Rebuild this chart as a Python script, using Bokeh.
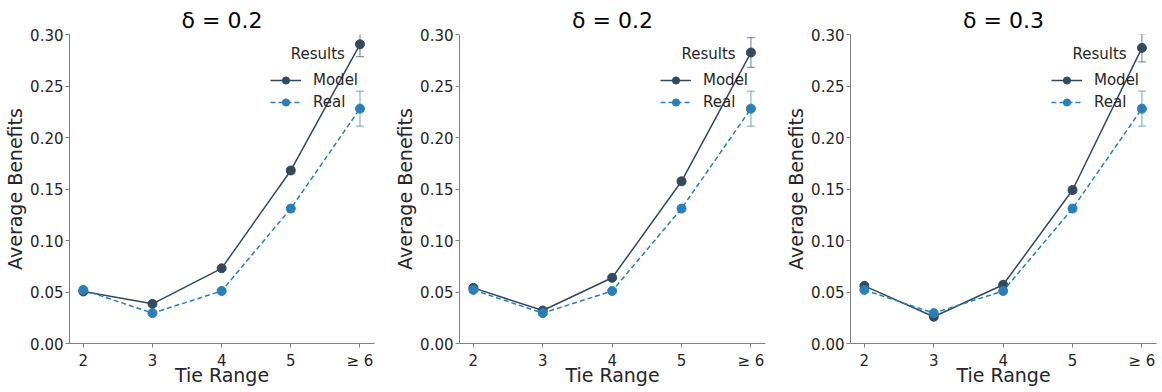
from bokeh.plotting import figure
from bokeh.layouts import row
from bokeh.models import (Range1d, FixedTicker, NumeralTickFormatter, Legend, LegendItem,
                          Whisker, TeeHead, ColumnDataSource, Label)
from bokeh.embed import file_html
from bokeh.resources import INLINE

# Tie range categories on the x axis
tie_ranges = ["2", "3", "4", "5", "≥ 6"]

# Delta used in each panel
deltas = ["0.2", "0.2", "0.3"]

# Model average benefits (one list per panel) and their error half-widths
model_benefits = [
    [0.0505, 0.0385, 0.073, 0.168, 0.2905],
    [0.054, 0.032, 0.0638, 0.1575, 0.2825],
    [0.056, 0.026, 0.057, 0.149, 0.287],
]
model_err = [
    [0.002, 0.002, 0.002, 0.003, 0.012],
    [0.002, 0.002, 0.002, 0.003, 0.0145],
    [0.002, 0.002, 0.002, 0.003, 0.0135],
]

# Observed (real) average benefits, identical across panels
real_benefits = [0.052, 0.0295, 0.051, 0.131, 0.228]
real_err = [0.002, 0.002, 0.002, 0.003, 0.017]

y_ticks = [0.0, 0.05, 0.10, 0.15, 0.20, 0.25, 0.30]

MODEL_COLOR = "#34495e"
REAL_COLOR = "#2980b9"
FONT = "DejaVu Sans"
SPINE = "#808080"


def make_panel(i, frame_width, border_right):
    xs = list(range(len(tie_ranges)))
    p = figure(
        output_backend="svg", toolbar_location=None,
        frame_width=frame_width, frame_height=309,
        min_border_left=69, min_border_right=border_right,
        min_border_top=34, min_border_bottom=49,
        x_range=Range1d(-0.2, len(tie_ranges) - 1 + 0.21),
        y_range=Range1d(0.0, 0.30),
        title="δ = " + deltas[i],
    )
    p.outline_line_color = None
    p.background_fill_color = "white"
    p.border_fill_color = "white"
    p.xgrid.visible = False
    p.ygrid.visible = False

    p.title.align = "center"
    p.title.text_font = FONT
    p.title.text_font_size = "22px"
    p.title.text_font_style = "normal"
    p.title.text_color = "#000000"
    p.title.standoff = 4

    p.xaxis.ticker = FixedTicker(ticks=xs)
    p.xaxis.major_label_overrides = {k: lab for k, lab in enumerate(tie_ranges)}
    p.yaxis.ticker = FixedTicker(ticks=y_ticks)
    p.yaxis.formatter = NumeralTickFormatter(format="0.00")

    for ax in (p.xaxis, p.yaxis):
        ax.axis_line_color = SPINE
        ax.axis_line_width = 1
        ax.major_tick_line_color = SPINE
        ax.major_tick_out = 4
        ax.major_tick_in = 0
        ax.minor_tick_line_color = None
        ax.major_label_text_font = FONT
        ax.major_label_text_font_size = "15px"
        ax.major_label_text_color = "#262626"
        ax.axis_label_text_font = FONT
        ax.axis_label_text_font_size = "19px"
        ax.axis_label_text_font_style = "normal"
        ax.axis_label_text_color = "#262626"
    p.xaxis.axis_label = "Tie Range"
    p.yaxis.axis_label = "Average Benefits"
    p.xaxis.major_label_standoff = 4
    p.yaxis.major_label_standoff = 2
    p.xaxis.axis_label_standoff = -9
    p.yaxis.axis_label_standoff = 1

    # Model series
    m = model_benefits[i]
    me = model_err[i]
    msrc = ColumnDataSource(dict(
        x=xs, y=m,
        lo=[v - e for v, e in zip(m, me)],
        hi=[v + e for v, e in zip(m, me)],
    ))
    p.add_layout(Whisker(
        source=msrc, base="x", upper="hi", lower="lo", dimension="height",
        line_color=MODEL_COLOR, line_alpha=0.55, line_width=1.3,
        upper_head=TeeHead(size=8, line_color=MODEL_COLOR, line_alpha=0.55, line_width=1.3),
        lower_head=TeeHead(size=8, line_color=MODEL_COLOR, line_alpha=0.55, line_width=1.3),
    ))
    ml = p.line("x", "y", source=msrc, line_color=MODEL_COLOR, line_width=1.5)
    mc = p.scatter("x", "y", source=msrc, size=9, fill_color=MODEL_COLOR,
                   line_color=MODEL_COLOR)

    # Real series
    rsrc = ColumnDataSource(dict(
        x=xs, y=real_benefits,
        lo=[v - e for v, e in zip(real_benefits, real_err)],
        hi=[v + e for v, e in zip(real_benefits, real_err)],
    ))
    p.add_layout(Whisker(
        source=rsrc, base="x", upper="hi", lower="lo", dimension="height",
        line_color=REAL_COLOR, line_alpha=0.55, line_width=1.3,
        upper_head=TeeHead(size=8, line_color=REAL_COLOR, line_alpha=0.55, line_width=1.3),
        lower_head=TeeHead(size=8, line_color=REAL_COLOR, line_alpha=0.55, line_width=1.3),
    ))
    rl = p.line("x", "y", source=rsrc, line_color=REAL_COLOR, line_width=1.5,
                line_dash="5 3")
    rc = p.scatter("x", "y", source=rsrc, size=9, fill_color=REAL_COLOR,
                   line_color=REAL_COLOR)

    legend = Legend(
        items=[LegendItem(label="Model", renderers=[ml, mc]),
               LegendItem(label="Real", renderers=[rl, rc])],
        location=(201, 232),
        border_line_color=None, background_fill_alpha=0,
        padding=4, spacing=4, margin=0,
        glyph_width=31, glyph_height=18, label_height=18,
        label_standoff=12,
        label_text_font=FONT, label_text_font_size="15px",
        label_text_color="#262626",
    )
    p.add_layout(legend)

    # Legend heading, centred over the entries
    p.add_layout(Label(
        x=3.39, y=0.2815, text="Results", text_align="center",
        text_baseline="middle", text_font=FONT, text_font_size="15px",
        text_color="#262626",
    ))
    return p


panels = [
    make_panel(0, 305, 16),
    make_panel(1, 306, 16),
    make_panel(2, 306, 6),
]
layout = row(*panels, spacing=0)

open("out.html", "w").write(file_html(layout, INLINE))
